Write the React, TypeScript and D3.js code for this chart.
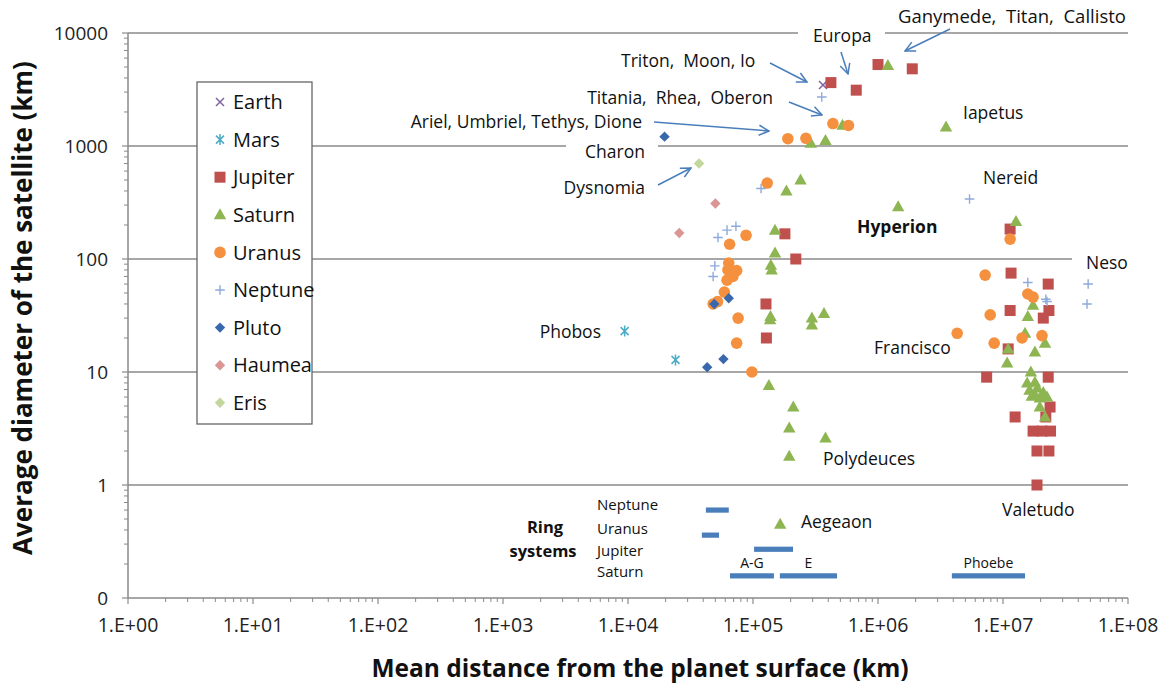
import React, { useEffect } from "react";
import * as d3 from "d3";

// ---------- DATA (distance from planet surface km, mean diameter km) ----------
const earth: [number, number][] = [[3.63e5, 3470]];
const mars: [number, number][] = [[9.4e3, 23], [2.4e4, 12.8]];
const jupiter: [number, number][] = [
  [1.0e6, 5260], [1.88e6, 4820], [4.2e5, 3640], [6.7e5, 3120],
  [1.8e5, 167], [2.2e5, 100], [1.27e5, 40], [1.28e5, 20],
  [1.14e7, 184], [1.16e7, 75], [2.3e7, 60], [1.14e7, 35], [2.33e7, 35], [2.1e7, 30],
  [1.1e7, 16], [7.4e6, 9], [2.3e7, 9], [2.38e7, 4.9], [1.25e7, 4], [2.2e7, 4],
  [1.74e7, 3], [2.05e7, 3], [2.4e7, 3], [1.87e7, 2], [2.33e7, 2], [1.87e7, 1],
];
const saturn: [number, number][] = [
  [1.2e6, 5150], [3.5e6, 1470], [5.2e5, 1530], [2.9e5, 1060], [3.8e5, 1120],
  [2.4e5, 500], [1.85e5, 400], [1.45e6, 290], [1.27e7, 215],
  [1.5e5, 180], [1.5e5, 113], [1.39e5, 88], [1.41e5, 80], [1.37e5, 29], [1.38e5, 31],
  [2.96e5, 26], [2.96e5, 30], [3.7e5, 33],
  [1.34e5, 7.6], [2.1e5, 4.9], [1.95e5, 3.2], [3.8e5, 2.6], [1.95e5, 1.8], [1.65e5, 0.45],
  [1.74e7, 39], [1.58e7, 31], [1.5e7, 22], [2.17e7, 18], [1.1e7, 16], [1.8e7, 15],
  [1.08e7, 12], [1.67e7, 10], [1.56e7, 8], [1.8e7, 8.1], [1.63e7, 6.9], [1.88e7, 7.2],
  [2.1e7, 6.6], [1.8e7, 6.3], [2.25e7, 6], [1.97e7, 5.9], [1.7e7, 6.1], [1.97e7, 4.9], [2.17e7, 4],
];
const uranus: [number, number][] = [
  [4.36e5, 1580], [5.8e5, 1520], [2.65e5, 1170], [1.9e5, 1160], [1.3e5, 470],
  [8.8e4, 162], [6.5e4, 135], [6.4e4, 92], [6.3e4, 80], [7.4e4, 79], [6.2e4, 65], [6.9e4, 70],
  [5.9e4, 51], [5.2e4, 42], [4.8e4, 40], [7.6e4, 30], [7.4e4, 18], [9.8e4, 10],
  [4.3e6, 22], [7.2e6, 72], [1.14e7, 150], [7.9e6, 32], [8.5e6, 18],
  [1.58e7, 49], [1.74e7, 46], [1.42e7, 20], [2.05e7, 21],
];
const neptune: [number, number][] = [
  [3.55e5, 2710], [1.16e5, 420], [7.3e4, 195], [6.2e4, 180], [5.25e4, 155],
  [4.95e4, 87], [4.8e4, 70], [5.4e6, 340], [1.58e7, 62], [2.2e7, 44], [2.25e7, 42],
  [4.8e7, 60], [4.7e7, 40],
];
const pluto: [number, number][] = [[1.96e4, 1210], [4.9e4, 40], [6.4e4, 45], [4.3e4, 11], [5.8e4, 13]];
const haumea: [number, number][] = [[5.0e4, 310], [2.57e4, 170]];
const eris: [number, number][] = [[3.7e4, 700]];

// ring systems: [start km, end km, row level]
const ringNames = ["Neptune", "Uranus", "Jupiter", "Saturn"];
const rings: [number, number, number][] = [
  [4.2e4, 6.4e4, 0.6],
  [3.9e4, 5.35e4, 0.36],
  [1.02e5, 2.09e5, 0.27],
  [6.55e4, 1.47e5, 0.157],
  [1.64e5, 4.7e5, 0.157],
  [3.9e6, 1.5e7, 0.157],
];
const saturnRingNames = ["A-G", "E", "Phoebe"];

const xTicks = [1, 10, 100, 1e3, 1e4, 1e5, 1e6, 1e7, 1e8];
const xTickLabels = ["1.E+00", "1.E+01", "1.E+02", "1.E+03", "1.E+04", "1.E+05", "1.E+06", "1.E+07", "1.E+08"];
const yTicks = [0.1, 1, 10, 100, 1000, 10000];
const yTickLabels = ["0", "1", "10", "100", "1000", "10000"];

const seriesNames = ["Earth", "Mars", "Jupiter", "Saturn", "Uranus", "Neptune", "Pluto", "Haumea", "Eris"];
const seriesData = [earth, mars, jupiter, saturn, uranus, neptune, pluto, haumea, eris];

// ---------- STYLE / LAYOUT ----------
const FONT = "'Open Sans', 'Noto Sans', sans-serif";
const W = 1164, H = 684;
const L = 128, R = 1128, T = 33, B = 598;
const shapes = ["x", "star", "square", "triangle", "circle", "plus", "diamond", "diamond", "diamond"];
const colors = ["#7e62a1", "#4bacc6", "#c0504d", "#8db552", "#f5913e", "#8eaadb", "#3a68ad", "#d99694", "#c3d69b"];
const GRID = "#8a8a8a";
const ARROW = "#4a7ebb";

const ringLabelY = [505, 529, 551, 572];
const annotations = [
  { t: "Ganymede,  Titan,  Callisto", x: 898, y: 16, a: "start", s: 18.5 },
  { t: "Europa", x: 813, y: 36, a: "start", s: 17.5 },
  { t: "Triton,  Moon, Io", x: 621, y: 61, a: "start", s: 17.5 },
  { t: "Titania,  Rhea,  Oberon", x: 773, y: 98, a: "end", s: 17.5 },
  { t: "Ariel, Umbriel, Tethys, Dione", x: 642, y: 122, a: "end", s: 17.5 },
  { t: "Charon", x: 645, y: 152, a: "end", s: 17.5 },
  { t: "Dysnomia", x: 645, y: 188, a: "end", s: 17.5 },
  { t: "Iapetus", x: 963, y: 113, a: "start", s: 17.5 },
  { t: "Nereid", x: 983, y: 178, a: "start", s: 17.5 },
  { t: "Neso", x: 1086, y: 263, a: "start", s: 17.5 },
  { t: "Phobos", x: 601, y: 332, a: "end", s: 17.5 },
  { t: "Francisco", x: 874, y: 348, a: "start", s: 17.5 },
  { t: "Polydeuces", x: 823, y: 459, a: "start", s: 17.5 },
  { t: "Valetudo", x: 1002, y: 510, a: "start", s: 17.5 },
  { t: "Aegeaon", x: 801, y: 522, a: "start", s: 17.5 },
];
const whiteBoxes = [
  { x: 798, y: 22, w: 87, h: 28 },
  { x: 566, y: 138, w: 92, h: 28 },
  { x: 1072, y: 249, w: 66, h: 28 },
];
const arrows = [
  [950, 29, 905, 51],
  [841, 52, 848, 74],
  [770, 63, 807, 82],
  [789, 102, 822, 115],
  [654, 122, 769, 131],
  [658, 185, 691, 168],
];

function Marker({ shape, color, x, y }: { shape: string; color: string; x: number; y: number }) {
  switch (shape) {
    case "square":
      return <rect x={x - 5.5} y={y - 5.5} width={11} height={11} fill={color} />;
    case "triangle":
      return <path d={`M${x},${y - 6.5}L${x + 6.2},${y + 4.5}L${x - 6.2},${y + 4.5}Z`} fill={color} />;
    case "circle":
      return <circle cx={x} cy={y} r={5.8} fill={color} />;
    case "diamond":
      return <path d={`M${x},${y - 5.2}L${x + 5.2},${y}L${x},${y + 5.2}L${x - 5.2},${y}Z`} fill={color} />;
    case "plus":
      return (
        <path d={`M${x - 4.8},${y}H${x + 4.8}M${x},${y - 4.8}V${y + 4.8}`} stroke={color} strokeWidth={1.4} fill="none" />
      );
    case "x":
      return (
        <path d={`M${x - 4},${y - 4}L${x + 4},${y + 4}M${x - 4},${y + 4}L${x + 4},${y - 4}`} stroke={color} strokeWidth={1.5} fill="none" />
      );
    case "star":
      return (
        <path
          d={`M${x - 4},${y - 4}L${x + 4},${y + 4}M${x - 4},${y + 4}L${x + 4},${y - 4}M${x},${y - 5.5}V${y + 5.5}`}
          stroke={color}
          strokeWidth={1.5}
          fill="none"
        />
      );
    default:
      return null;
  }
}

export default function App() {
  useEffect(() => {
    document.body.style.margin = "0";
  }, []);

  const x = d3.scaleLog().domain([1, 1e8]).range([L, R]);
  const y = d3.scaleLog().domain([0.1, 1e4]).range([B, T]);

  const minorX: number[] = [];
  for (let e = 0; e < 8; e++) for (let k = 2; k <= 9; k++) minorX.push(k * Math.pow(10, e));
  const minorY: number[] = [];
  for (let e = -1; e < 4; e++) for (let k = 2; k <= 9; k++) minorY.push(k * Math.pow(10, e));

  const legendTop = 82, legendLeft = 197, legendW = 115, legendH = 342, legendStep = 37.6;

  return (
    <svg width={W} height={H} style={{ position: "absolute", left: 0, top: 0, background: "#fff" }} fontFamily={FONT}>
      <defs>
        <marker id="arr" viewBox="0 0 12 12" refX="11" refY="6" markerWidth="12" markerHeight="12" markerUnits="userSpaceOnUse" orient="auto">
          <path d="M1,1 L11,6 L1,11" fill="none" stroke={ARROW} strokeWidth={1.5} />
        </marker>
      </defs>
      <rect x={0} y={0} width={W} height={H} fill="#fff" />

      {/* gridlines */}
      {yTicks.slice(1).map((v) => (
        <line key={v} x1={L} x2={R} y1={y(v)} y2={y(v)} stroke={GRID} strokeWidth={1.5} />
      ))}
      {whiteBoxes.map((b, i) => (
        <rect key={i} x={b.x} y={b.y} width={b.w} height={b.h} fill="#fff" />
      ))}

      {/* axes */}
      <line x1={L} x2={L} y1={T} y2={B} stroke={GRID} strokeWidth={1.5} />
      <line x1={L} x2={R} y1={B} y2={B} stroke={GRID} strokeWidth={1.5} />
      {yTicks.map((v) => (
        <line key={"ym" + v} x1={L - 6} x2={L} y1={y(v)} y2={y(v)} stroke={GRID} strokeWidth={1.2} />
      ))}
      {minorY.map((v) => (
        <line key={"yn" + v} x1={L - 4} x2={L} y1={y(v)} y2={y(v)} stroke={GRID} strokeWidth={1} />
      ))}
      {xTicks.map((v) => (
        <line key={"xm" + v} x1={x(v)} x2={x(v)} y1={B} y2={B + 6} stroke={GRID} strokeWidth={1.2} />
      ))}
      {minorX.map((v) => (
        <line key={"xn" + v} x1={x(v)} x2={x(v)} y1={B} y2={B + 4} stroke={GRID} strokeWidth={1} />
      ))}
      {yTicks.map((v, i) => (
        <text key={"yl" + v} x={108} y={y(v)} dy="0.36em" textAnchor="end" fontSize={19} fill="#222">
          {yTickLabels[i]}
        </text>
      ))}
      {xTicks.map((v, i) => (
        <text key={"xl" + v} x={x(v)} y={632} textAnchor="middle" fontSize={19.5} fill="#222">
          {xTickLabels[i]}
        </text>
      ))}

      {/* axis titles */}
      <text x={640} y={677} textAnchor="middle" fontSize={24.5} fontWeight={700} fill="#111">
        Mean distance from the planet surface (km)
      </text>
      <text transform={`translate(32,308) rotate(-90)`} textAnchor="middle" fontSize={26} fontWeight={700} fill="#111">
        Average diameter of the satellite (km)
      </text>

      {/* ring systems */}
      {rings.map((r, i) => (
        <rect key={"ring" + i} x={x(r[0])} y={y(r[2]) - 2.6} width={x(r[1]) - x(r[0])} height={5.2} fill="#4a7ebb" />
      ))}
      {ringNames.map((n, i) => (
        <text key={"rn" + n} x={597} y={ringLabelY[i]} dy="0.36em" fontSize={15} fill="#111">
          {n}
        </text>
      ))}
      {saturnRingNames.map((n, i) => {
        const r = rings[3 + i];
        return (
          <text key={"sr" + n} x={(x(r[0]) + x(r[1])) / 2} y={y(r[2]) - 13} dy="0.36em" textAnchor="middle" fontSize={14} fill="#111">
            {n}
          </text>
        );
      })}
      <text x={545} y={527} dy="0.36em" textAnchor="middle" fontSize={16.5} fontWeight={700} fill="#111">
        Ring
      </text>
      <text x={543} y={551} dy="0.36em" textAnchor="middle" fontSize={16.5} fontWeight={700} fill="#111">
        systems
      </text>

      {/* data points */}
      {seriesData.map((data, si) => (
        <g key={"s" + si}>
          {data.map((d, j) => (
            <Marker key={j} shape={shapes[si]} color={colors[si]} x={x(d[0])} y={y(d[1])} />
          ))}
        </g>
      ))}

      {/* arrows */}
      {arrows.map((a, i) => (
        <line key={"ar" + i} x1={a[0]} y1={a[1]} x2={a[2]} y2={a[3]} stroke={ARROW} strokeWidth={1.5} markerEnd="url(#arr)" />
      ))}

      {/* annotations */}
      {annotations.map((a, i) => (
        <text key={"an" + i} x={a.x} y={a.y} dy="0.36em" textAnchor={a.a as any} fontSize={a.s} fill="#111" style={{ whiteSpace: "pre" }}>
          {a.t}
        </text>
      ))}
      <text x={857} y={227} dy="0.36em" fontSize={17.5} fontWeight={700} fill="#111">
        Hyperion
      </text>

      {/* legend */}
      <rect x={legendLeft} y={legendTop} width={legendW} height={legendH} fill="#fff" stroke="#666" strokeWidth={1.3} />
      {seriesNames.map((n, i) => {
        const cy = legendTop + 20 + i * legendStep;
        return (
          <g key={"lg" + n}>
            <Marker shape={shapes[i]} color={colors[i]} x={220} y={cy} />
            <text x={233} y={cy} dy="0.36em" fontSize={20} fill="#111">
              {n}
            </text>
          </g>
        );
      })}
    </svg>
  );
}
